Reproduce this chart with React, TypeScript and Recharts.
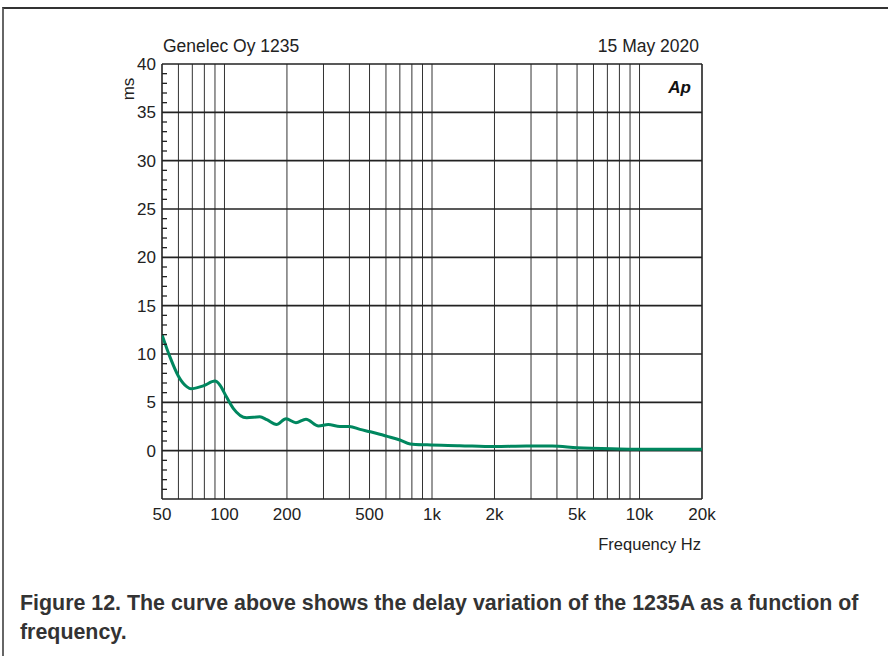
import React from "react";
import { LineChart, Line, XAxis, YAxis, ReferenceLine } from "recharts";

// Group delay of Genelec 1235A
const freqHz = [
  50, 54.6, 60, 66, 69, 79, 90, 95, 102, 110, 128, 148, 160, 178, 198, 221, 247,
  284, 316, 360, 400, 450, 505, 560, 604, 700, 785, 947, 1360, 2000, 2850, 3800,
  5000, 8000, 11800, 20000,
];
const delayMs = [
  12.0, 9.7, 7.7, 6.6, 6.4, 6.7, 7.2, 6.8, 5.6, 4.4, 3.4, 3.5, 3.2, 2.7, 3.3, 2.9,
  3.25, 2.55, 2.7, 2.5, 2.5, 2.2, 1.95, 1.7, 1.5, 1.1, 0.7, 0.6, 0.52, 0.42, 0.48,
  0.48, 0.3, 0.18, 0.14, 0.14,
];

const xTicks = [50, 100, 200, 500, 1000, 2000, 5000, 10000, 20000];
const yTicks = Array.from({ length: 46 }, (_, i) => i - 5);
const yGrid = [0, 5, 10, 15, 20, 25, 30, 35];
const xGrid = [
  60, 70, 80, 90, 100, 200, 300, 400, 500, 600, 700, 800, 900, 1000, 2000, 3000,
  4000, 5000, 6000, 7000, 8000, 9000, 10000,
];

const data = freqHz.map((f, i) => ({ f, ms: delayMs[i] }));

const FONT = "'Liberation Sans', Arial, Helvetica, sans-serif";
const INK = "#222";
const GRID = "#333";

function fmtFreq(v: number): string {
  return v >= 1000 ? `${v / 1000}k` : String(v);
}

function YTick(props: any) {
  const { x, y, payload } = props;
  const v = payload.value as number;
  if (v % 5 !== 0) {
    return <line x1={x} x2={x + 5} y1={y} y2={y} stroke={INK} strokeWidth={1.3} />;
  }
  if (v < 0) return null;
  return (
    <text x={x - 6} y={y + 6} textAnchor="end" fontSize={17} fill={INK} fontFamily={FONT}>
      {v}
    </text>
  );
}

export default function App() {
  return (
    <div
      style={{
        position: "absolute",
        left: 0,
        top: 0,
        width: 888,
        height: 656,
        background: "#fff",
        overflow: "hidden",
        fontFamily: FONT,
      }}
    >
      <div
        style={{
          position: "absolute",
          left: 2,
          top: 7,
          width: 900,
          height: 700,
          borderTop: "2px solid #333",
          borderLeft: "2px solid #666",
        }}
      />
      <div style={{ position: "absolute", left: 0, top: 0 }}>
        <LineChart
          width={888}
          height={560}
          data={data}
          margin={{ top: 64, right: 186, left: 102, bottom: 31 }}
        >
          <XAxis
            dataKey="f"
            type="number"
            scale="log"
            domain={[50, 20000]}
            ticks={xTicks}
            tickFormatter={fmtFreq}
            allowDataOverflow
            axisLine={false}
            tickLine={false}
            tickSize={0}
            tickMargin={9}
            height={30}
            interval={0}
            tick={{ fontSize: 17, fill: INK, fontFamily: FONT }}
          />
          <YAxis
            type="number"
            domain={[-5, 40]}
            ticks={yTicks}
            interval={0}
            width={60}
            axisLine={false}
            tickLine={false}
            tickSize={0}
            tickMargin={0}
            tick={<YTick />}
          />
          {xGrid.map((f) => (
            <ReferenceLine key={`vx${f}`} x={f} stroke={GRID} strokeWidth={1} />
          ))}
          {yGrid.map((v) => (
            <ReferenceLine key={`hy${v}`} y={v} stroke={INK} strokeWidth={1.6} />
          ))}
          <ReferenceLine y={40} stroke={INK} strokeWidth={1.6} />
          <ReferenceLine y={-5} stroke={INK} strokeWidth={1.6} />
          <ReferenceLine x={50} stroke={INK} strokeWidth={1.6} />
          <ReferenceLine x={20000} stroke={INK} strokeWidth={1.6} />
          <Line
            dataKey="ms"
            type="monotone"
            stroke="#00875f"
            strokeWidth={3}
            dot={false}
            isAnimationActive={false}
          />
        </LineChart>
      </div>
      <svg
        width={888}
        height={656}
        style={{ position: "absolute", left: 0, top: 0, pointerEvents: "none" }}
        fontFamily={FONT}
      >
        <text x={163} y={52} fontSize={17.5} fill={INK}>
          Genelec Oy 1235
        </text>
        <text x={699} y={52} fontSize={17.5} fill={INK} textAnchor="end">
          15 May 2020
        </text>
        <text x={691} y={93} fontSize={17} fill="#111" textAnchor="end" fontWeight="bold" fontStyle="italic">
          Ap
        </text>
        <text
          x={134}
          y={89}
          fontSize={17}
          fill={INK}
          textAnchor="middle"
          transform="rotate(-90 134 89)"
        >
          ms
        </text>
        <text x={701} y={550} fontSize={16.5} fill={INK} textAnchor="end">
          Frequency Hz
        </text>
      </svg>
      <div
        style={{
          position: "absolute",
          left: 20,
          top: 589,
          fontSize: 21.4,
          lineHeight: "29px",
          fontWeight: "bold",
          color: "#333",
          whiteSpace: "nowrap",
        }}
      >
        Figure 12. The curve above shows the delay variation of the 1235A as a function of
        <br />
        frequency.
      </div>
    </div>
  );
}
